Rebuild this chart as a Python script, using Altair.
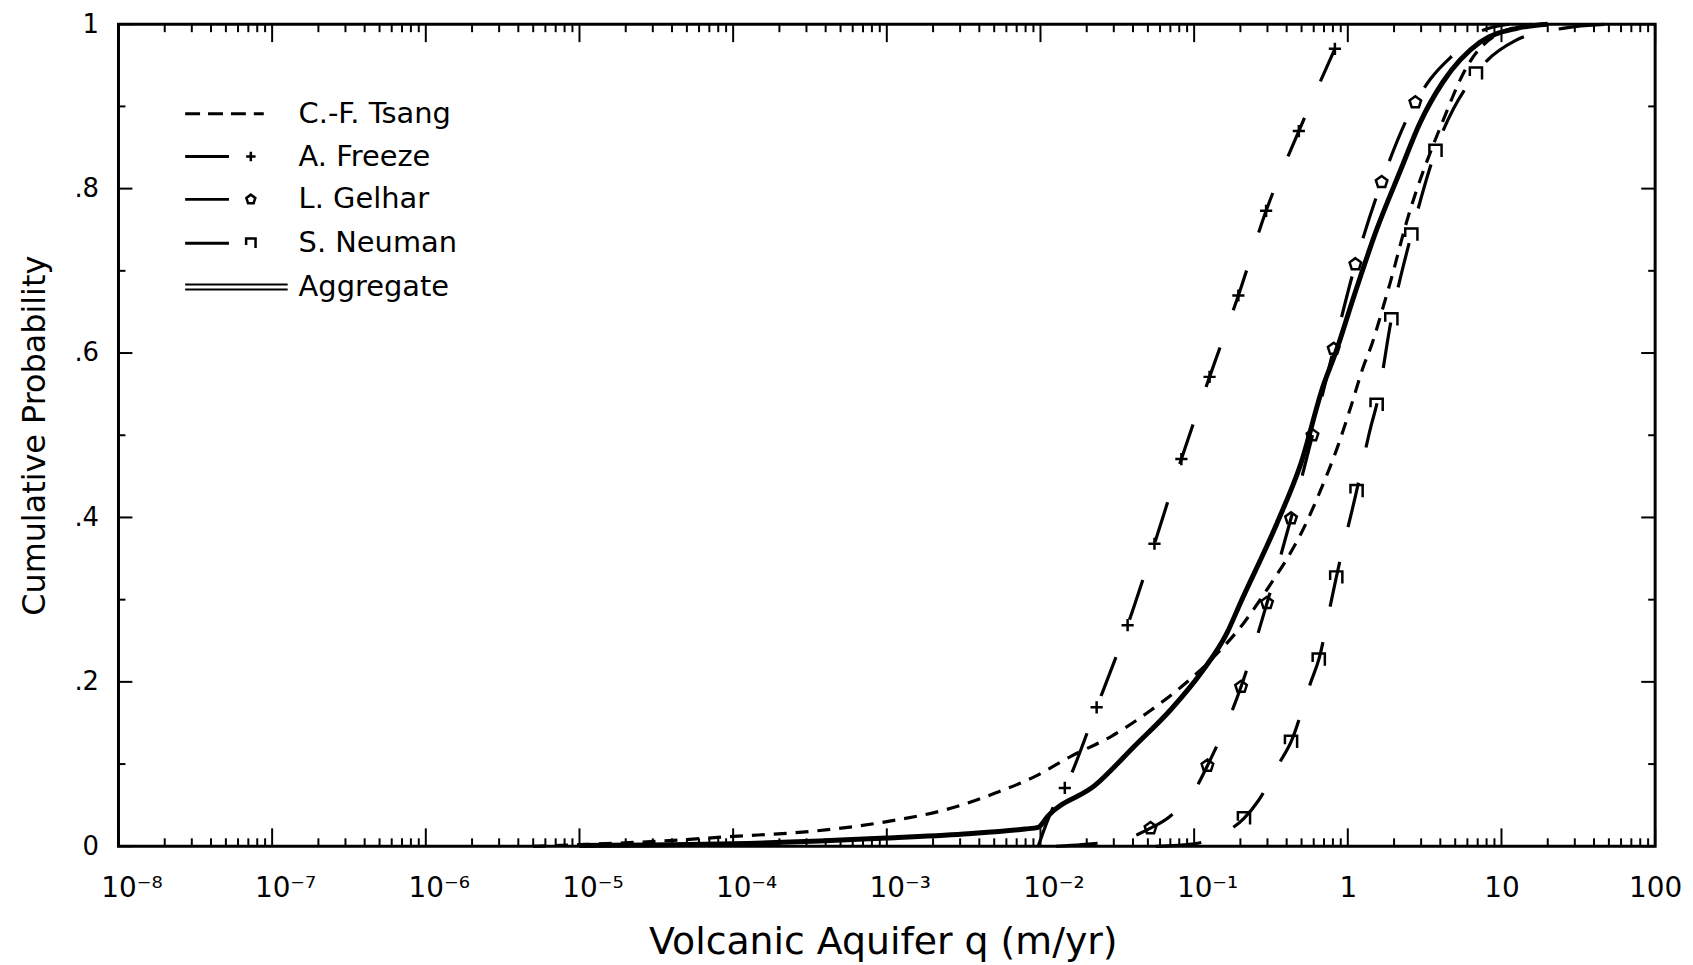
import json
import altair as alt
import pandas as pd

# ---------------- data ----------------
series_names = ["C.-F. Tsang", "A. Freeze", "L. Gelhar", "S. Neuman", "Aggregate"]

tsang_q = [5.0e-6, 1.0e-5, 3.16e-5, 1.0e-4, 3.16e-4, 1.0e-3, 2.82e-3, 5.13e-3, 9.23e-3,
           1.60e-2, 2.91e-2, 5.01e-2, 8.63e-2, 0.129, 0.211, 0.307, 0.433, 0.501, 0.661,
           0.851, 1.04, 1.26, 1.43, 1.71, 1.89, 2.40, 4.17, 6.03, 8.91, 15.8]
tsang_p = [0.0, 0.002, 0.006, 0.012, 0.018, 0.030, 0.048, 0.065, 0.085,
           0.110, 0.134, 0.163, 0.197, 0.227, 0.272, 0.316, 0.360, 0.382, 0.432,
           0.484, 0.533, 0.583, 0.610, 0.658, 0.686, 0.758, 0.883, 0.950, 0.985, 1.0]

freeze_q = [9.66e-3, 1.20e-2, 1.44e-2, 2.32e-2, 3.69e-2, 5.52e-2, 8.26e-2, 0.126,
            0.194, 0.294, 0.480, 0.824]
freeze_p = [0.0, 0.046, 0.071, 0.169, 0.269, 0.368, 0.471, 0.571, 0.670, 0.773, 0.870, 0.970]
freeze_mark = [0, 0, 1, 1, 1, 1, 1, 1, 1, 1, 1, 1]

gelhar_q = [1.26e-2, 1.86e-2, 3.72e-2, 5.20e-2, 6.92e-2, 0.105, 0.122, 0.202, 0.298,
            0.427, 0.589, 0.809, 1.12, 1.66, 2.75, 3.44, 5.07, 7.08, 11.2]
gelhar_p = [0.0, 0.002, 0.010, 0.022, 0.036, 0.074, 0.098, 0.194, 0.296,
            0.399, 0.500, 0.605, 0.708, 0.808, 0.905, 0.933, 0.966, 0.990, 1.0]
gelhar_mark = [0, 0, 0, 1, 0, 0, 1, 1, 1, 1, 1, 1, 1, 1, 1, 0, 0, 0, 0]

neuman_q = [5.62e-2, 0.100, 0.164, 0.211, 0.263, 0.355, 0.427, 0.575, 0.647, 0.776,
            0.841, 1.14, 1.41, 1.54, 1.92, 2.59, 3.72, 6.82, 12.3, 25.1, 50.1]
neuman_p = [0.0, 0.003, 0.018, 0.034, 0.056, 0.100, 0.127, 0.200, 0.227, 0.296,
            0.327, 0.432, 0.510, 0.537, 0.641, 0.744, 0.846, 0.940, 0.980, 0.995, 1.0]
neuman_mark = [0, 0, 0, 1, 0, 0, 1, 0, 1, 0, 1, 1, 0, 1, 1, 1, 1, 1, 0, 0, 0]

agg_q = [1.0e-5, 1.0e-4, 1.0e-3, 3.16e-3, 7.94e-3, 9.66e-3, 1.12e-2, 2.26e-2, 4.10e-2,
         7.11e-2, 0.111, 0.164, 0.200, 0.346, 0.494, 0.697, 0.832, 1.10, 1.54, 2.20,
         2.95, 4.17, 7.24, 12.6, 20.0]
agg_p = [0.001, 0.003, 0.010, 0.015, 0.021, 0.023, 0.037, 0.074, 0.122,
         0.167, 0.211, 0.260, 0.296, 0.393, 0.465, 0.562, 0.600, 0.670, 0.750, 0.822,
         0.880, 0.930, 0.978, 0.995, 1.0]

x_decades = [1e-8, 1e-7, 1e-6, 1e-5, 1e-4, 1e-3, 1e-2, 1e-1, 1, 10, 100]
x_tick_labels = ["10⁻⁸", "10⁻⁷", "10⁻⁶", "10⁻⁵", "10⁻⁴", "10⁻³", "10⁻²", "10⁻¹", "1", "10", "100"]
x_minor = [m * d for d in x_decades[:-1] for m in range(2, 10)]
y_ticks = [0, 0.2, 0.4, 0.6, 0.8, 1.0]
y_tick_labels = ["0", ".2", ".4", ".6", ".8", "1"]
y_minor = [0.1, 0.3, 0.5, 0.7, 0.9]

# ---------------- layout / style ----------------
W, H = 1544, 826
FONT = "DejaVu Sans"
CROSS = "M-1,0H1M0,-1V1"
PENT = "M0,-1L0.95,-0.31L0.59,0.81L-0.59,0.81L-0.95,-0.31Z"
BRACKET = "M-1,0.4V-1H1V1"

xs = alt.Scale(type="log", domain=[1e-8, 100], nice=False)
ys = alt.Scale(domain=[0, 1], nice=False, zero=False)

x_axis = alt.Axis(
    values=x_decades,
    labelExpr=json.dumps(x_tick_labels, ensure_ascii=False) + "[round(log(datum.value)/LN10)+8]",
    ticks=False, tickSize=0, domain=False, grid=False,
    labelFont=FONT, labelFontSize=28, labelColor="black",
    labelBaseline="alphabetic", labelPadding=50, labelFlush=False, labelOverlap=False,
    labelOffset={"condition": {"test": "datum.value < 1", "value": 13}, "value": 0},
    title="Volcanic Aquifer q (m/yr)", titleFont=FONT, titleFontSize=38,
    titleFontWeight="normal", titleColor="black", titleBaseline="alphabetic",
    titleX=768, titleY=108,
)
y_axis = alt.Axis(
    values=y_ticks,
    labelExpr=json.dumps(y_tick_labels) + "[round(datum.value*5)]",
    ticks=False, tickSize=0, domain=False, grid=False,
    labelFont=FONT, labelFontSize=26, labelColor="black", labelPadding=20,
    labelFlush=False, labelOverlap=False,
    title="Cumulative Probability", titleFont=FONT, titleFontSize=32,
    titleFontWeight="normal", titleColor="black", titleAngle=270,
    titleBaseline="alphabetic", titleAlign="center", titleX=-74, titleY=413,
)


def X(field):
    return alt.X(field, type="quantitative", scale=xs, axis=x_axis)


def Y(field):
    return alt.Y(field, type="quantitative", scale=ys, axis=y_axis)


def frame(q, p, mark=None):
    d = pd.DataFrame({"q": q, "p": p})
    d["i"] = range(len(d))
    d["mark"] = mark if mark is not None else 0
    return d


layers = []

# ---- inward ticks on all four sides ----
xmaj = pd.DataFrame({"v": x_decades})
xmin = pd.DataFrame({"v": x_minor})
ymaj = pd.DataFrame({"v": y_ticks})
ymin = pd.DataFrame({"v": y_minor})
for df, ln in [(xmaj, 18), (xmin, 8)]:
    layers.append(alt.Chart(df).mark_rule(color="black", strokeWidth=2).encode(
        x=X("v"), y=alt.value(H), y2=alt.value(H - ln)))
    layers.append(alt.Chart(df).mark_rule(color="black", strokeWidth=2).encode(
        x=X("v"), y=alt.value(0), y2=alt.value(ln)))
for df, ln in [(ymaj, 14), (ymin, 7)]:
    layers.append(alt.Chart(df).mark_rule(color="black", strokeWidth=2).encode(
        y=Y("v"), x=alt.value(0), x2=alt.value(ln)))
    layers.append(alt.Chart(df).mark_rule(color="black", strokeWidth=2).encode(
        y=Y("v"), x=alt.value(W), x2=alt.value(W - ln)))

# ---- curves ----
series = [
    (frame(tsang_q, tsang_p), [13, 9], 3.2, None),
    (frame(freeze_q, freeze_p, freeze_mark), [42, 40], 3.2, CROSS),
    (frame(gelhar_q, gelhar_p, gelhar_mark), [42, 40], 3.2, PENT),
    (frame(neuman_q, neuman_p, neuman_mark), [46, 36], 3.2, BRACKET),
    (frame(agg_q, agg_p), None, 5, None),
]
for df, dash, sw, shape in series:
    kw = dict(color="black", strokeWidth=sw, strokeCap="butt", interpolate="monotone")
    if dash:
        kw["strokeDash"] = dash
    layers.append(alt.Chart(df).mark_line(**kw).encode(
        x=X("q"), y=Y("p"), order="i:Q"))
    if shape:
        layers.append(alt.Chart(df[df["mark"] == 1]).mark_point(
            shape=shape, filled=False, color="black", size=150, strokeWidth=2.5, opacity=1
        ).encode(x=X("q"), y=Y("p")))

# ---- legend (inside the plot, top left) ----
one = pd.DataFrame({"a": [0]})
rows = [90, 133, 176, 220, 264]
legend_shapes = [None, CROSS, PENT, BRACKET, None]
for k, name in enumerate(series_names):
    yy = rows[k]
    if k == 0:
        layers.append(alt.Chart(one).mark_rule(color="black", strokeWidth=3, strokeDash=[15, 8]).encode(
            x=alt.value(67), x2=alt.value(146), y=alt.value(yy)))
    elif k == 4:
        for off in (-2.5, 2.5):
            layers.append(alt.Chart(one).mark_rule(color="black", strokeWidth=2).encode(
                x=alt.value(67), x2=alt.value(170), y=alt.value(yy + off)))
    else:
        layers.append(alt.Chart(one).mark_rule(color="black", strokeWidth=3).encode(
            x=alt.value(67), x2=alt.value(111), y=alt.value(yy)))
        layers.append(alt.Chart(one).mark_point(
            shape=legend_shapes[k], filled=False, color="black", size=90, strokeWidth=2.5, opacity=1
        ).encode(x=alt.value(133), y=alt.value(yy)))
    layers.append(alt.Chart(one).mark_text(
        text=name, align="left", baseline="middle", font=FONT, fontSize=29, color="black"
    ).encode(x=alt.value(181), y=alt.value(yy)))

chart = alt.layer(*layers).properties(
    width=W, height=H,
    autosize=alt.AutoSizeParams(type="none"),
    padding={"left": 111, "top": 14, "right": 30, "bottom": 117},
    background="white",
).configure_view(stroke="black", strokeWidth=3)

chart.save("out.html", embed_options={"renderer": "svg", "actions": False})
